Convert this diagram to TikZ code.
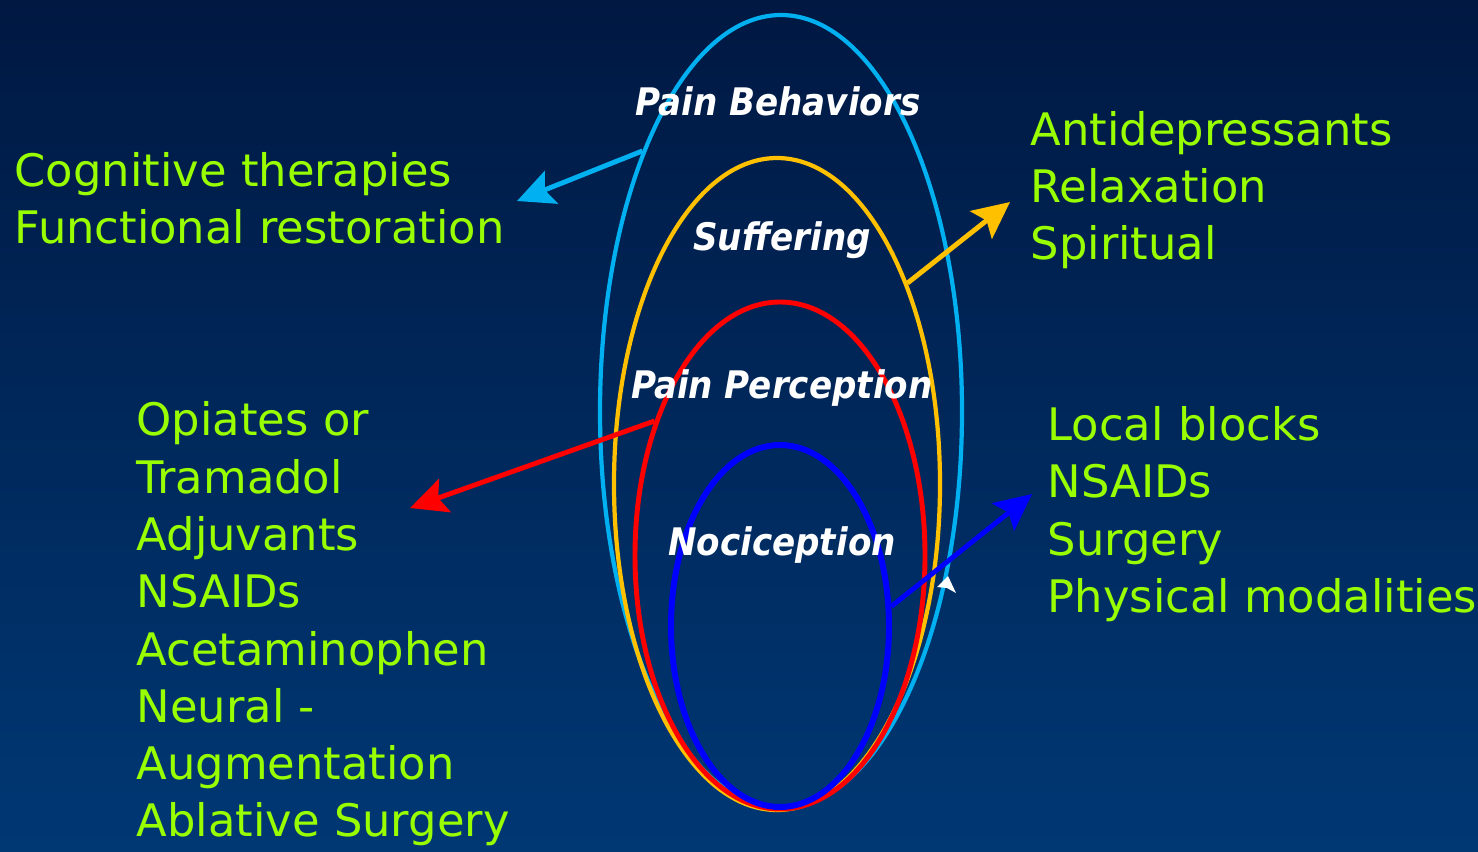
\documentclass[tikz,border=0pt]{standalone}
\usepackage{fontspec}
\setmainfont{DejaVu Sans}
\newfontfamily\condfont{DejaVu Sans Condensed}
\usepackage{tikz}
\usetikzlibrary{arrows.meta,positioning,shapes.geometric}
\definecolor{bgtop}{RGB}{0,24,66}
\definecolor{bgbot}{RGB}{0,56,116}
\definecolor{pbgreen}{RGB}{153,255,0}
\definecolor{pbcyan}{RGB}{0,176,240}
\definecolor{pbyellow}{RGB}{255,192,0}
\definecolor{pbred}{RGB}{255,0,0}
\definecolor{pbblue}{RGB}{0,0,255}

\begin{document}
\begin{tikzpicture}[
  ring/.style={ellipse, draw, line width=1.2pt, inner sep=0pt},
  layer/.style={font=\condfont\fontsize{10.8}{13}\selectfont\bfseries\itshape, white, inner sep=0pt},
  remedy/.style={font=\fontsize{12.75}{16.3}\selectfont, pbgreen, align=left, anchor=west, inner sep=0pt},
  pointer/.style={line width=1.4pt, -{Stealth[length=10.5pt, width=10pt, inset=2pt]}}
]
% Background
\useasboundingbox (0,0) rectangle (14.78,-8.51);
\shade[top color=bgtop, bottom color=bgbot] (0,0) rectangle (14.78,-8.51);
% Nested rings
\node[ring, draw=pbcyan, minimum width=3.62cm, minimum height=7.93cm] (behav) at (7.81,-4.115) {};
\node[ring, draw=pbyellow, minimum width=3.26cm, minimum height=6.52cm] (suff) at (7.77,-4.84) {};
\node[ring, draw=pbred, line width=1.4pt, minimum width=2.90cm, minimum height=5.07cm] (perc) at (7.80,-5.555) {};
\node[ring, draw=pbblue, line width=1.7pt, minimum width=2.18cm, minimum height=3.62cm] (noci) at (7.80,-6.26) {};
% Ring labels
\node[layer] (behavlab) at (7.78,-1.01) {Pain Behaviors};
\node[layer] (sufflab) at (7.82,-2.40) {Suffering};
\node[layer] (perclab) at (7.82,-3.88) {Pain Perception};
\node[layer] (nocilab) at (7.82,-5.45) {Nociception};
% Treatments
\node[remedy] (cogn) at (0.14,-1.985) {Cognitive therapies\\Functional restoration};
\node[remedy] (drugs) at (1.36,-6.24) {Opiates or\\Tramadol\\Adjuvants\\NSAIDs\\Acetaminophen\\Neural -\\Augmentation\\Ablative Surgery};
\node[remedy] (mood) at (10.30,-1.90) {Antidepressants\\Relaxation\\Spiritual};
\node[remedy] (local) at (10.47,-5.14) {Local blocks\\NSAIDs\\Surgery\\Physical modalities};
% Arrow ends
\coordinate (cognend) at (5.17,-2.01);
\coordinate (moodend) at (10.10,-2.02);
\coordinate (drugsend) at (4.10,-5.08);
\coordinate (localend) at (10.32,-4.94);
% Arrows
\draw[pointer, pbcyan] (behav.118) -- (cognend);
\draw[pointer, pbyellow] (suff.57) -- (moodend);
\draw[pointer, pbred] (perc.133) -- (drugsend);
\draw[pointer, pbblue] (noci.10) -- (localend);
% Small white tip
\fill[white] (9.48,-5.76) -- (9.56,-5.93) -- (9.47,-5.88) -- (9.37,-5.87) -- cycle;
\end{tikzpicture}
\end{document}
